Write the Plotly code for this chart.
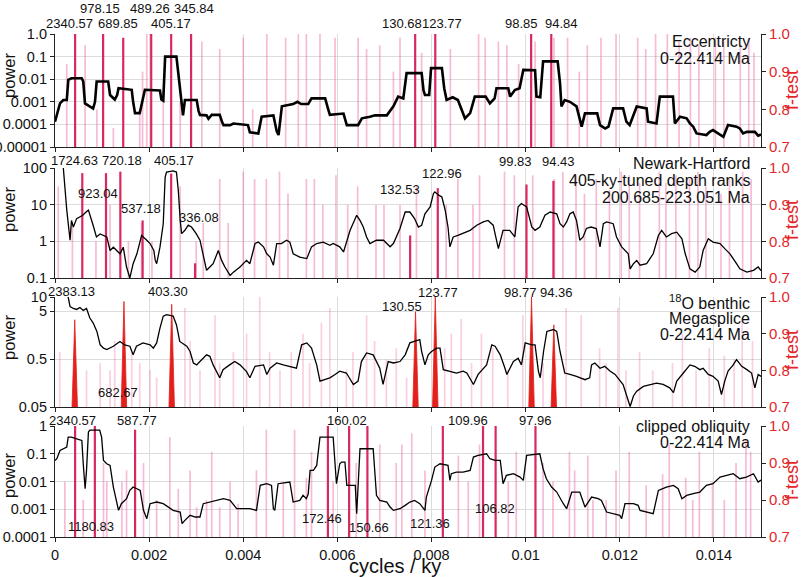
import plotly.graph_objects as go

# ---------------- data ----------------
# frequencies of spectra are given in units of 1e-4 cycles/ky; power as log10(power)
ecc_freq = [0, 1.06, 1.77, 2.5, 2.83, 3.5, 5.67, 6.0, 6.37, 7.4,
            8.1, 8.5, 8.85, 11.3, 11.7, 12.7, 13.2, 13.5, 16.3, 16.6,
            17.0, 18.0, 18.4, 19.1, 22.3, 22.6, 23.0, 23.4, 25.8, 26.3,
            26.9, 27.2, 27.6, 30.1, 30.5, 30.8, 32.2, 32.6, 33.3, 35.0,
            35.5, 35.8, 37.2, 37.9, 41.0, 41.4, 43.2, 43.6, 43.9, 46.4,
            47.1, 47.5, 47.8, 48.2, 50.6, 51.5, 52.3, 53.8, 54.5, 57.4,
            58.0, 58.4, 61.3, 62.0, 64.4, 65.2, 66.9, 68.0, 70.5, 71.9,
            72.9, 74.0, 74.7, 77.9, 78.3, 78.6, 79.5, 79.9, 82.2, 82.7,
            83.2, 84.5, 85.6, 86.4, 87.1, 88.2, 89.2, 91.5, 92.4, 93.4,
            93.8, 96.3, 96.7, 97.7, 98.7, 99.5, 102.0, 102.3, 103.1, 103.7,
            106.8, 107.3, 107.6, 108.3, 109.4, 110.8, 111.9, 112.6, 115.2, 115.8,
            116.9, 117.6, 118.6, 120.7, 121.4, 122.1, 123.6, 125.7, 126.0, 127.8,
            128.5, 131.3, 131.7, 132.8, 134.2, 134.9, 135.6, 136.3, 138.4, 139.1,
            139.8, 142.0, 143.0, 144.8, 145.5, 146.2, 147.0, 148.7, 149.4, 150.0]
ecc_logpow = [-3.88, -3.07, -2.92, -2.92, -2.03, -1.96, -1.96, -2.1, -3.07, -3.2,
              -3.3, -3.0, -2.1, -2.1, -2.7, -2.9, -2.7, -2.4, -2.47, -3.0,
              -3.5, -3.5, -3.07, -2.47, -2.5, -2.9, -2.95, -1.0, -1.0, -2.0,
              -2.9, -3.6, -2.92, -2.92, -3.4, -3.58, -3.6, -3.75, -3.58, -3.58,
              -3.9, -4.03, -4.03, -3.96, -4.03, -4.35, -4.4, -3.9, -3.66, -3.6,
              -4.3, -4.47, -4.0, -3.2, -3.1, -3.0, -3.1, -3.1, -2.85, -2.85,
              -3.3, -3.58, -3.52, -4.03, -4.03, -3.73, -3.66, -3.6, -3.6, -3.2,
              -2.77, -2.85, -1.73, -1.73, -2.5, -2.7, -2.7, -1.51, -1.51, -2.4,
              -2.92, -2.8, -2.92, -3.36, -3.73, -3.5, -2.77, -2.77, -3.07, -2.85,
              -2.4, -2.4, -2.77, -2.48, -2.4, -1.59, -1.6, -2.77, -2.8, -1.21,
              -1.21, -2.18, -3.2, -2.92, -3.0, -3.2, -4.1, -3.51, -3.51, -4.03,
              -4.18, -4.1, -3.29, -3.29, -3.88, -4.03, -3.21, -3.29, -3.88, -3.96,
              -2.77, -2.77, -3.96, -3.66, -3.73, -3.96, -4.1, -4.4, -4.47, -4.33,
              -4.25, -4.55, -4.03, -4.1, -4.18, -4.4, -4.33, -4.33, -4.5, -4.45]

nh_freq = [0, 1.2, 1.77, 2.5, 2.9, 3.2, 3.5, 3.9, 4.6, 5.3,
           5.9, 6.6, 7.1, 8.1, 8.8, 9.6, 10.3, 11.0, 11.7, 12.4,
           13.1, 13.8, 14.5, 15.2, 15.9, 16.6, 17.4, 18.1, 18.4, 19.5,
           20.2, 21.0, 21.3, 21.6, 22.3, 23.0, 23.4, 23.7, 25.1, 25.8,
           26.2, 26.6, 26.9, 27.6, 28.3, 29.0, 30.0, 30.8, 31.5, 32.2,
           32.9, 33.6, 34.7, 35.4, 36.1, 36.8, 37.2, 37.9, 39.3, 40.7,
           41.4, 42.5, 43.2, 44.3, 45.0, 45.7, 46.4, 47.1, 48.1, 49.2,
           49.9, 50.6, 52.0, 53.5, 54.5, 55.6, 57.0, 58.4, 59.1, 60.5,
           61.3, 62.7, 64.1, 64.8, 65.5, 66.2, 66.9, 68.3, 69.8, 71.2,
           71.9, 73.3, 74.4, 75.4, 76.4, 77.2, 77.9, 78.6, 79.7, 80.4,
           80.7, 81.5, 82.2, 82.9, 83.5, 83.9, 84.6, 85.6, 87.1, 88.2,
           89.6, 91.0, 92.0, 93.1, 93.8, 94.2, 95.2, 96.6, 97.7, 98.4,
           99.1, 100.2, 101.3, 102.0, 103.0, 104.1, 105.2, 106.6, 107.3, 108.0,
           108.7, 109.4, 110.1, 110.8, 111.5, 112.2, 112.9, 113.9, 115.0, 115.8,
           116.5, 117.2, 118.6, 119.3, 120.4, 121.8, 122.2, 122.9, 123.6, 124.3,
           125.7, 127.1, 128.2, 128.9, 129.9, 131.0, 132.1, 133.2, 133.9, 134.9,
           136.0, 137.0, 137.7, 138.8, 139.8, 141.3, 142.3, 143.4, 144.8, 145.5,
           147.0, 148.4, 149.4, 150.0]
nh_logpow = [3.0, 2.3, 2.0, 0.85, 0.3, 0.03, 0.57, 0.39, 0.62, 0.66,
             0.71, 0.8, 0.85, 0.44, 0.12, 0.2, 0.16, 0.12, -0.25, -0.16,
             -0.25, -0.34, -0.16, -0.7, -1.0, -0.61, -0.34, 0.03, 0.16, 0.03,
             -0.06, -0.25, -0.52, -0.61, -0.16, 0.48, 1.75, 1.89, 1.92, 1.89,
             1.39, 0.57, 0.21, 0.3, 0.44, 0.39, 0.21, 0.03, -0.34, -0.79,
             -0.7, -0.61, -0.25, -0.52, -0.7, -0.84, -0.93, -0.84, -0.7, -0.52,
             -0.61, -0.06, -0.02, -0.15, -0.34, -0.43, -0.65, -0.06, -0.06, 0.03,
             -0.02, -0.34, -0.43, -0.47, -0.15, -0.06, -0.02, -0.11, -0.06, -0.15,
             -0.29, 0.3, 0.71, 0.57, 0.39, 0.12, -0.06, 0.03, 0.03, -0.15,
             -0.06, 0.35, 0.8, 0.8, 0.62, 0.39, 0.44, 0.75, 0.94, 1.3,
             1.35, 1.26, 1.21, 0.85, 0.39, -0.15, 0.12, 0.16, 0.25, 0.3,
             0.44, 0.53, 0.57, 0.44, 0.03, -0.2, 0.3, 0.3, 0.12, 0.94,
             1.03, 0.94, 0.39, 0.3, 0.39, 0.71, 0.8, 0.75, 0.48, 0.39,
             0.53, 0.75, 0.8, 0.57, 0.03, 0.12, 0.35, 0.39, 0.35, -0.15,
             0.48, 0.53, 0.48, 0.12, -0.15, -0.34, -0.75, -0.61, -0.52, -0.65,
             -0.61, -0.34, 0.16, 0.3, 0.12, 0.21, 0.25, 0.07, -0.34, -0.75,
             -0.84, -0.7, -0.25, 0.07, -0.02, -0.06, -0.2, -0.34, -0.61, -0.75,
             -0.84, -0.79, -0.7, -0.8]

o18_freq = [0, 2.0, 2.8, 3.2, 3.9, 4.6, 5.3, 6.0, 6.7, 7.4,
            8.1, 8.9, 9.6, 10.3, 11.0, 12.4, 13.8, 14.8, 15.9, 16.6,
            17.3, 18.7, 20.2, 20.9, 21.6, 22.3, 23.0, 23.7, 25.1, 25.8,
            26.5, 28.0, 28.7, 29.4, 30.1, 30.8, 32.2, 32.9, 33.6, 35.0,
            35.7, 37.1, 38.2, 39.3, 40.7, 41.4, 42.5, 44.3, 45.0, 45.7,
            47.1, 48.5, 49.9, 51.3, 52.4, 53.5, 54.5, 55.6, 56.3, 57.4,
            58.4, 59.5, 60.5, 61.9, 63.4, 64.4, 65.1, 66.2, 67.6, 69.0,
            69.7, 70.8, 71.9, 73.3, 74.4, 75.4, 77.5, 77.9, 78.6, 79.3,
            80.0, 81.1, 81.8, 82.5, 83.9, 85.3, 86.7, 87.5, 88.9, 89.9,
            91.7, 92.8, 93.5, 94.6, 95.6, 96.0, 97.4, 98.4, 99.1, 99.9,
            101.3, 102.0, 102.7, 103.1, 103.8, 104.5, 105.9, 106.6, 107.3, 108.3,
            109.4, 110.8, 112.6, 113.6, 114.0, 114.7, 115.8, 116.8, 117.9, 119.0,
            120.7, 122.2, 122.9, 123.6, 125.0, 126.4, 127.8, 129.2, 130.6, 131.4,
            132.1, 133.5, 134.9, 135.9, 137.0, 137.7, 138.8, 139.8, 140.9, 141.6,
            142.3, 143.0, 144.1, 144.8, 145.9, 147.0, 148.0, 148.7, 149.4, 150.0]
o18_logpow = [1.5, 1.15, 1.0, 0.8, 0.76, 0.74, 0.78, 0.72, 0.76, 0.56,
              0.46, 0.28, 0.0, -0.07, -0.1, -0.03, 0.07, 0.0, -0.03, -0.21,
              -0.03, 0.04, 0.0, -0.07, 0.04, 0.35, 0.6, 0.63, 0.6, 0.42,
              0.07, -0.03, -0.14, -0.38, -0.42, -0.35, -0.21, -0.24, -0.42, -0.69,
              -0.52, -0.42, -0.35, -0.42, -0.56, -0.69, -0.45, -0.42, -0.62, -0.49,
              -0.38, -0.42, -0.45, -0.49, 0.0, 0.04, -0.07, -0.42, -0.76, -0.73,
              -0.69, -0.62, -0.55, -0.59, -0.83, -0.76, -0.35, -0.17, -0.21, -0.49,
              -0.83, -0.35, -0.38, -0.35, -0.21, 0.04, 0.11, -0.14, -0.42, -0.21,
              -0.14, -0.07, -0.07, -0.52, -0.55, -0.59, -0.55, -0.59, -0.83, -0.62,
              -0.42, 0.0, -0.03, -0.21, -0.49, -0.62, -0.35, -0.28, -0.42, 0.04,
              0.0, 0.0, -0.55, -0.69, -0.14, 0.28, 0.32, 0.28, -0.14, -0.59,
              -0.62, -0.66, -0.73, -0.69, -0.42, -0.38, -0.49, -0.45, -0.55, -0.62,
              -0.83, -1.29, -1.07, -0.97, -0.87, -0.83, -0.8, -0.83, -0.9, -1.0,
              -0.76, -0.59, -0.42, -0.45, -0.52, -0.49, -0.62, -0.66, -0.76, -1.04,
              -0.76, -0.55, -0.42, -0.31, -0.45, -0.52, -0.59, -0.9, -0.62, -0.66]

obl_freq = [0, 0.4, 1.06, 1.8, 2.5, 2.8, 3.5, 4.6, 5.7, 6.0,
            6.4, 6.7, 7.1, 7.4, 9.5, 9.9, 10.3, 11.0, 11.7, 12.4,
            13.1, 13.5, 14.1, 15.2, 15.9, 16.6, 17.4, 18.1, 18.8, 19.5,
            20.2, 21.6, 23.0, 24.1, 25.1, 26.6, 27.0, 27.6, 28.7, 29.8,
            30.8, 31.5, 32.9, 34.4, 35.8, 37.2, 38.6, 40.0, 41.4, 42.8,
            43.6, 45.0, 46.0, 46.4, 46.7, 47.4, 49.9, 50.6, 52.0, 52.7,
            53.4, 53.8, 54.2, 54.9, 55.6, 56.3, 59.1, 59.5, 59.8, 60.5,
            60.9, 61.6, 62.0, 63.8, 64.1, 64.8, 67.6, 68.3, 69.0, 70.5,
            71.2, 71.9, 73.3, 74.4, 75.4, 76.4, 77.5, 78.6, 78.9, 80.0,
            80.7, 81.8, 83.5, 83.9, 84.2, 85.3, 86.7, 88.2, 88.9, 89.9,
            91.7, 92.4, 93.5, 94.6, 95.2, 95.9, 97.4, 98.8, 99.5, 100.2,
            103.0, 103.7, 104.4, 105.5, 106.6, 108.0, 108.7, 109.8, 111.5, 112.6,
            114.0, 115.4, 116.1, 117.2, 118.6, 120.0, 120.4, 121.1, 122.9, 123.9,
            124.3, 125.7, 127.1, 128.2, 129.9, 131.4, 132.4, 133.2, 134.2, 135.6,
            137.0, 138.4, 139.8, 141.3, 142.7, 144.1, 145.5, 146.9, 148.4, 149.4,
            150.0]
obl_logpow = [-1.24, -1.18, -0.88, -0.82, -0.76, -0.4, -0.4, -0.46, -0.52, -1.36,
              -2.26, -1.6, -0.22, -0.15, -0.15, -0.4, -1.24, -1.36, -1.42, -2.2,
              -2.8, -3.04, -2.8, -2.62, -2.32, -2.2, -2.26, -2.32, -3.04, -3.34,
              -2.8, -2.74, -2.8, -2.92, -3.04, -3.1, -3.52, -3.4, -3.22, -3.28,
              -3.28, -2.8, -2.74, -2.68, -2.62, -2.68, -2.98, -2.98, -2.98, -3.04,
              -2.14, -2.08, -2.14, -2.98, -3.04, -2.08, -2.02, -2.74, -2.68, -2.5,
              -2.62, -2.45, -1.6, -1.6, -1.42, -0.4, -0.4, -1.36, -2.08, -1.36,
              -1.3, -1.3, -2.14, -2.14, -3.16, -0.82, -0.82, -2.5, -2.68, -2.74,
              -2.92, -3.04, -2.98, -2.86, -2.74, -2.68, -2.8, -3.04, -2.56, -1.96,
              -1.48, -1.36, -1.42, -1.96, -1.72, -1.66, -1.66, -1.6, -1.12, -1.06,
              -1.0, -1.18, -1.24, -1.24, -2.08, -1.78, -1.72, -1.84, -1.96, -1.06,
              -1.0, -1.54, -1.9, -2.2, -2.38, -2.8, -2.98, -2.38, -2.38, -2.92,
              -2.56, -2.62, -2.68, -3.1, -3.16, -3.22, -3.34, -2.8, -2.8, -2.86,
              -3.04, -3.1, -3.16, -2.32, -2.2, -2.14, -2.26, -2.62, -2.5, -2.44,
              -2.38, -2.14, -2.08, -1.84, -1.78, -1.72, -1.9, -1.84, -1.72, -2.02,
              -1.95]

# f-test peaks (frequency in cycles/ky, f-test value)
ecc_ft_freq = [0.00025, 0.00064, 0.00089, 0.00124, 0.0018, 0.00186, 0.00195, 0.0023, 0.00266, 0.00312,
               0.0035, 0.004, 0.0042, 0.0045, 0.0049, 0.00517, 0.00534, 0.00563, 0.00595, 0.00644,
               0.00662, 0.0069, 0.00719, 0.00733, 0.00779, 0.0084, 0.009, 0.00914, 0.00942, 0.0096,
               0.00985, 0.0102, 0.0106, 0.01089, 0.01114, 0.01131, 0.0116, 0.01192, 0.01238, 0.01255,
               0.01276, 0.01301, 0.01326, 0.0135, 0.01368, 0.01403, 0.01421, 0.01456, 0.01474, 0.01485]
ecc_ft_val = [0.92, 0.97, 0.8, 0.75, 0.8, 0.9, 1.0, 0.85, 0.82, 0.98,
              0.96, 0.99, 0.8, 1.0, 0.99, 1.0, 1.0, 1.0, 0.99, 0.99,
              0.96, 0.97, 0.9, 0.99, 0.95, 0.96, 1.0, 0.99, 0.98, 0.97,
              0.92, 0.98, 0.99, 0.99, 0.9, 0.97, 0.99, 1.0, 0.99, 0.96,
              1.0, 1.0, 0.98, 0.99, 0.97, 0.99, 0.98, 0.97, 0.99, 0.95]
nh_ft_freq = [0.00007, 0.00037, 0.00087, 0.00117, 0.00156, 0.00184, 0.00206, 0.00266, 0.003, 0.00315,
              0.0035, 0.00368, 0.004, 0.00424, 0.00449, 0.00477, 0.00495, 0.00534, 0.00551, 0.00569,
              0.00597, 0.00622, 0.00643, 0.00682, 0.00699, 0.00733, 0.00768, 0.00831, 0.00856, 0.00888,
              0.00902, 0.00955, 0.00976, 0.01015, 0.01061, 0.01079, 0.01107, 0.01125, 0.0115, 0.01178,
              0.01203, 0.0122, 0.01242, 0.01284, 0.01298, 0.01319, 0.01348, 0.01366, 0.01383, 0.01415,
              0.01433, 0.01461, 0.01479]
nh_ft_val = [0.95, 0.85, 0.8, 0.9, 0.8, 0.85, 0.8, 0.95, 0.8, 0.85,
             0.97, 0.85, 0.99, 0.97, 0.97, 0.99, 0.93, 0.97, 0.97, 0.9,
             0.98, 0.9, 0.95, 0.9, 0.9, 0.9, 0.95, 0.9, 0.97, 0.9,
             0.98, 0.99, 0.98, 0.98, 0.97, 0.99, 0.98, 0.93, 0.97, 0.94,
             0.99, 0.98, 0.96, 0.99, 0.96, 0.98, 0.97, 0.99, 0.95, 0.93,
             0.97, 0.99, 0.97]
o18_ft_freq = [0.0001, 0.00067, 0.00096, 0.00117, 0.00127, 0.00163, 0.0018, 0.00202, 0.00216, 0.00276,
               0.00287, 0.00308, 0.0034, 0.0035, 0.00379, 0.00407, 0.00435, 0.00456, 0.00478, 0.00502,
               0.00527, 0.00541, 0.00566, 0.00584, 0.00619, 0.00633, 0.00662, 0.00679, 0.00704, 0.00725,
               0.00747, 0.00828, 0.00842, 0.00863, 0.00885, 0.00906, 0.0093, 0.00962, 0.00994, 0.01037,
               0.01086, 0.01118, 0.01157, 0.01171, 0.01196, 0.01213, 0.01242, 0.0127, 0.01312, 0.01333,
               0.01362, 0.0139, 0.01422, 0.01443, 0.0146, 0.01482]
o18_ft_val = [0.85, 0.8, 0.82, 0.8, 0.88, 0.85, 0.82, 0.8, 0.78, 0.97,
              0.88, 0.8, 0.95, 0.82, 0.85, 0.9, 1.0, 0.85, 0.8, 0.85,
              0.9, 0.82, 0.93, 0.97, 0.8, 0.85, 0.95, 0.88, 0.83, 0.86,
              0.78, 0.86, 0.9, 0.94, 0.82, 0.9, 0.86, 0.8, 0.95, 0.82,
              0.97, 0.95, 0.86, 0.82, 0.97, 0.8, 0.85, 0.8, 0.82, 0.9,
              0.8, 0.86, 0.84, 0.83, 0.94, 0.88]
obl_ft_freq = [0.00021, 0.0006, 0.00103, 0.0011, 0.00142, 0.00152, 0.00188, 0.00216, 0.00244, 0.00262,
               0.00287, 0.00301, 0.00322, 0.00333, 0.0035, 0.00372, 0.00389, 0.00428, 0.00449, 0.00485,
               0.00509, 0.00534, 0.00545, 0.00591, 0.0064, 0.0069, 0.00725, 0.00737, 0.00758, 0.00786,
               0.00857, 0.00878, 0.00902, 0.00963, 0.0098, 0.01037, 0.01058, 0.01093, 0.01104, 0.01132,
               0.01143, 0.01171, 0.01192, 0.0122, 0.01256, 0.01291, 0.01305, 0.0134, 0.01355, 0.01369,
               0.01397, 0.01422, 0.01447, 0.01468, 0.01478]
obl_ft_val = [0.85, 0.8, 0.9, 0.85, 0.85, 0.88, 0.9, 0.8, 0.97, 0.83,
              0.88, 0.78, 0.8, 0.93, 0.78, 0.85, 0.79, 0.88, 0.99, 0.85,
              0.99, 0.86, 0.93, 0.85, 0.9, 0.95, 0.9, 0.95, 0.98, 0.88,
              0.92, 0.85, 0.95, 0.85, 0.93, 0.9, 0.85, 0.93, 0.88, 0.92,
              0.8, 0.8, 0.88, 0.93, 0.84, 0.87, 0.95, 0.86, 0.8, 0.93,
              0.85, 0.8, 0.9, 0.96, 0.93]

# significant peaks: periods (ky) and f-test values
ecc_periods = [2340.57, 978.15, 689.85, 489.26, 405.17, 345.84, 130.68, 123.77, 98.85, 94.84]
ecc_sig_ft = [1.0, 1.0, 0.99, 1.0, 1.0, 1.0, 1.0, 1.0, 1.0, 1.0]
nh_periods = [1724.63, 923.04, 720.18, 537.18, 405.17, 336.08, 132.53, 122.96, 99.83, 94.43]
nh_sig_ft = [0.986, 0.986, 0.99, 0.857, 0.985, 0.74, 0.816, 0.945, 0.955, 0.965]
o18_periods = [2383.13, 682.67, 403.30, 130.55, 123.77, 98.77, 94.36]
o18_sig_ft = [0.938, 0.988, 0.98, 0.96, 1.0, 1.0, 0.924]
obl_periods = [2340.57, 1180.83, 587.77, 172.46, 160.02, 150.66, 121.36, 109.96, 106.82, 97.96]
obl_sig_ft = [1.0, 1.0, 0.99, 1.0, 1.0, 1.0, 1.0, 1.0, 1.0, 1.0]

# ---------------- style / layout ----------------
FONT = "Liberation Sans, Arial, sans-serif"
PL, PR, PT, PB = 55, 761, 34, 537          # plot area in px
PANEL_PX = [(34, 147), (168, 278), (297, 407), (426, 537)]
RED_TXT = "#e3262a"


def ypap(p):
    return (PB - p) / (PB - PT)


def xpap(p):
    return (p - PL) / (PR - PL)


panels = [
    dict(freq=ecc_freq, logp=ecc_logpow, ftf=ecc_ft_freq, ftv=ecc_ft_val,
         per=ecc_periods, sig=ecc_sig_ft, lw=2.6, red="#d8285f", tri=False, pink_a=0.45,
         yr=[-5, 0], tv=[1e-5, 1e-4, 1e-3, 1e-2, 1e-1, 1],
         tt=["0.00001", "0.0001", "0.001", "0.01", "0.1", "1.0"],
         lab_y=[24, 8, 24, 8, 24, 8, 24, 24, 24, 24],
         lab_dx=[-6, -3, -5, -1, 0, 3, -13, 7, -10, 10],
         title=["Eccentricty", "0-22.414 Ma"], title_y=[42, 59], pw_y=76, ft_y=90),
    dict(freq=nh_freq, logp=nh_logpow, ftf=nh_ft_freq, ftv=nh_ft_val,
         per=nh_periods, sig=nh_sig_ft, lw=1.3, red="#d8285f", tri=False, pink_a=0.45,
         yr=[-1, 2], tv=[0.1, 1, 10, 100], tt=["0.1", "1", "10", "100"],
         lab_y=[160, 193, 160, 208, 160, 217, 190, 173, 161, 161],
         lab_dx=[-8, -8, 2, -2, 3, 4, -10, 4, -11, 5],
         title=["Newark-Hartford", "405-ky-tuned depth ranks", "200.685-223.051 Ma"],
         title_y=[164, 181, 197], pw_y=210, ft_y=220),
    dict(freq=o18_freq, logp=o18_logpow, ftf=o18_ft_freq, ftv=o18_ft_val,
         per=o18_periods, sig=o18_sig_ft, lw=1.3, red="#e3201c", tri=True, pink_a=0.32,
         yr=[-1.30103, 1], tv=[0.05, 0.5, 5, 10], tt=["0.05", "0.5", "5", "10"],
         lab_y=[291, 392, 291, 307, 292, 292, 292],
         lab_dx=[-3, -6, -4, -14, 3, -11, 3],
         title=["<sup>18</sup>O benthic", "Megasplice", "0-22.414 Ma"],
         title_y=[302, 318, 334], pw_y=338, ft_y=350),
    dict(freq=obl_freq, logp=obl_logpow, ftf=obl_ft_freq, ftv=obl_ft_val,
         per=obl_periods, sig=obl_sig_ft, lw=1.3, red="#d8285f", tri=False, pink_a=0.45,
         yr=[-4, 0], tv=[1e-4, 1e-3, 1e-2, 1e-1, 1],
         tt=["0.0001", "0.001", "0.01", "0.1", "1"],
         lab_y=[420, 526, 420, 518, 420, 527, 523, 420, 508, 420],
         lab_dx=[-3, -4, 2, -6, -2, 2, -13, -15, -1, 0],
         title=["clipped obliquity", "0-22.414 Ma"], title_y=[426, 442], pw_y=476, ft_y=480),
]

fig = go.Figure()
annotations = []
layout = dict(
    width=802, height=577,
    margin=dict(l=PL, r=802 - PR, t=PT, b=577 - PB, pad=0, autoexpand=False),
    paper_bgcolor="white", plot_bgcolor="white",
    showlegend=False, hovermode=False,
    font=dict(family=FONT, size=14, color="#111"),
)

xt_vals = [0, 0.002, 0.004, 0.006, 0.008, 0.010, 0.012, 0.014]
xt_text = ["0", "0.002", "0.004", "0.006", "0.008", "0.01", "0.012", "0.014"]

for k, p in enumerate(panels):
    n = k + 1
    xa = "x" if n == 1 else f"x{n}"
    yf = "y" if n == 1 else f"y{n}"
    yp = f"y{n + 4}"
    top, bot = PANEL_PX[k]
    dom = [ypap(bot), ypap(top)]

    # pink f-test peaks
    xs, ys = [], []
    for f, h in zip(p["ftf"], p["ftv"]):
        xs += [f, f, None]
        ys += [0.69, h, None]
    fig.add_trace(go.Scatter(x=xs, y=ys, mode="lines", xaxis=xa, yaxis=yf,
                             line=dict(color=f"rgba(236,105,165,{p['pink_a']})", width=1.7),
                             hoverinfo="skip"))
    # significant peaks
    sig_f = [1.0 / per for per in p["per"]]
    xs, ys = [], []
    if p["tri"]:
        w = 0.00006
        for f, h in zip(sig_f, p["sig"]):
            xs += [f - w, f, f + w, f - w, None]
            ys += [0.69, h, 0.69, 0.69, None]
        fig.add_trace(go.Scatter(x=xs, y=ys, mode="lines", fill="toself", xaxis=xa, yaxis=yf,
                                 fillcolor=p["red"], line=dict(color=p["red"], width=0.8),
                                 hoverinfo="skip"))
    else:
        for f, h in zip(sig_f, p["sig"]):
            xs += [f, f, None]
            ys += [0.69, h, None]
        fig.add_trace(go.Scatter(x=xs, y=ys, mode="lines", xaxis=xa, yaxis=yf,
                                 line=dict(color=p["red"], width=2.2), hoverinfo="skip"))
    # power spectrum
    fig.add_trace(go.Scatter(x=[v * 1e-4 for v in p["freq"]], y=[10 ** v for v in p["logp"]],
                             mode="lines", xaxis=xa, yaxis=yp,
                             line=dict(color="black", width=p["lw"]), hoverinfo="skip"))

    xkey = "xaxis" if n == 1 else f"xaxis{n}"
    yfkey = "yaxis" if n == 1 else f"yaxis{n}"
    ypkey = f"yaxis{n + 4}"
    layout[xkey] = dict(domain=[0, 1], anchor=yf, range=[0, 0.015], automargin=False,
                        tickvals=xt_vals, ticktext=xt_text, showticklabels=(n == 4),
                        showgrid=True, gridcolor="#dcdcdc", gridwidth=1, zeroline=False,
                        showline=True, linecolor="#222", linewidth=1.2,
                        ticks="outside", ticklen=4, tickcolor="#222",
                        tickfont=dict(size=14.5, family=FONT, color="#111"))
    layout[yfkey] = dict(domain=dom, anchor=xa, side="right", range=[0.7, 1.0], automargin=False,
                         tickvals=[0.7, 0.8, 0.9, 1.0], ticktext=["0.7", "0.8", "0.9", "1.0"],
                         showgrid=False, zeroline=False, showline=True, linecolor="#222",
                         linewidth=1.2, ticks="outside", ticklen=4, tickcolor="#222",
                         tickfont=dict(size=15, family=FONT, color=RED_TXT))
    layout[ypkey] = dict(overlaying=yf, anchor=xa, side="left", type="log", range=p["yr"],
                         automargin=False, tickvals=p["tv"], ticktext=p["tt"],
                         showgrid=True, gridcolor="#dcdcdc", gridwidth=1, zeroline=False,
                         showline=True, linecolor="#222", linewidth=1.2,
                         ticks="outside", ticklen=4, tickcolor="#222",
                         tickfont=dict(size=14.5, family=FONT, color="#111"))

    # period labels
    for per, ly, dx in zip(p["per"], p["lab_y"], p["lab_dx"]):
        annotations.append(dict(x=1.0 / per, xref=xa, y=ypap(ly), yref="paper",
                                text=f"{per:.2f}", showarrow=False, xshift=dx,
                                xanchor="center", yanchor="middle",
                                font=dict(size=13, family=FONT, color="#111")))
    # panel titles
    for t, ty in zip(p["title"], p["title_y"]):
        annotations.append(dict(x=xpap(752), xref="paper", y=ypap(ty), yref="paper",
                                text=t, showarrow=False, xanchor="right", yanchor="middle",
                                font=dict(size=16, family=FONT, color="#111")))
    # axis titles
    annotations.append(dict(x=xpap(9), xref="paper", y=ypap(p["pw_y"]), yref="paper",
                            text="power", textangle=-90, showarrow=False,
                            xanchor="center", yanchor="middle",
                            font=dict(size=16.5, family=FONT, color="#111")))
    annotations.append(dict(x=xpap(792), xref="paper", y=ypap(p["ft_y"]), yref="paper",
                            text="f-test", textangle=-90, showarrow=False,
                            xanchor="center", yanchor="middle",
                            font=dict(size=18, family=FONT, color=RED_TXT)))

annotations.append(dict(x=xpap(395), xref="paper", y=ypap(566), yref="paper",
                        text="cycles / ky", showarrow=False, xanchor="center", yanchor="middle",
                        font=dict(size=20, family=FONT, color="#111")))

layout["annotations"] = annotations
fig.update_layout(**layout)
fig.write_html("out.html", config={"displayModeBar": False},
               post_script="document.body.style.margin='0';document.body.style.overflow='hidden';")
